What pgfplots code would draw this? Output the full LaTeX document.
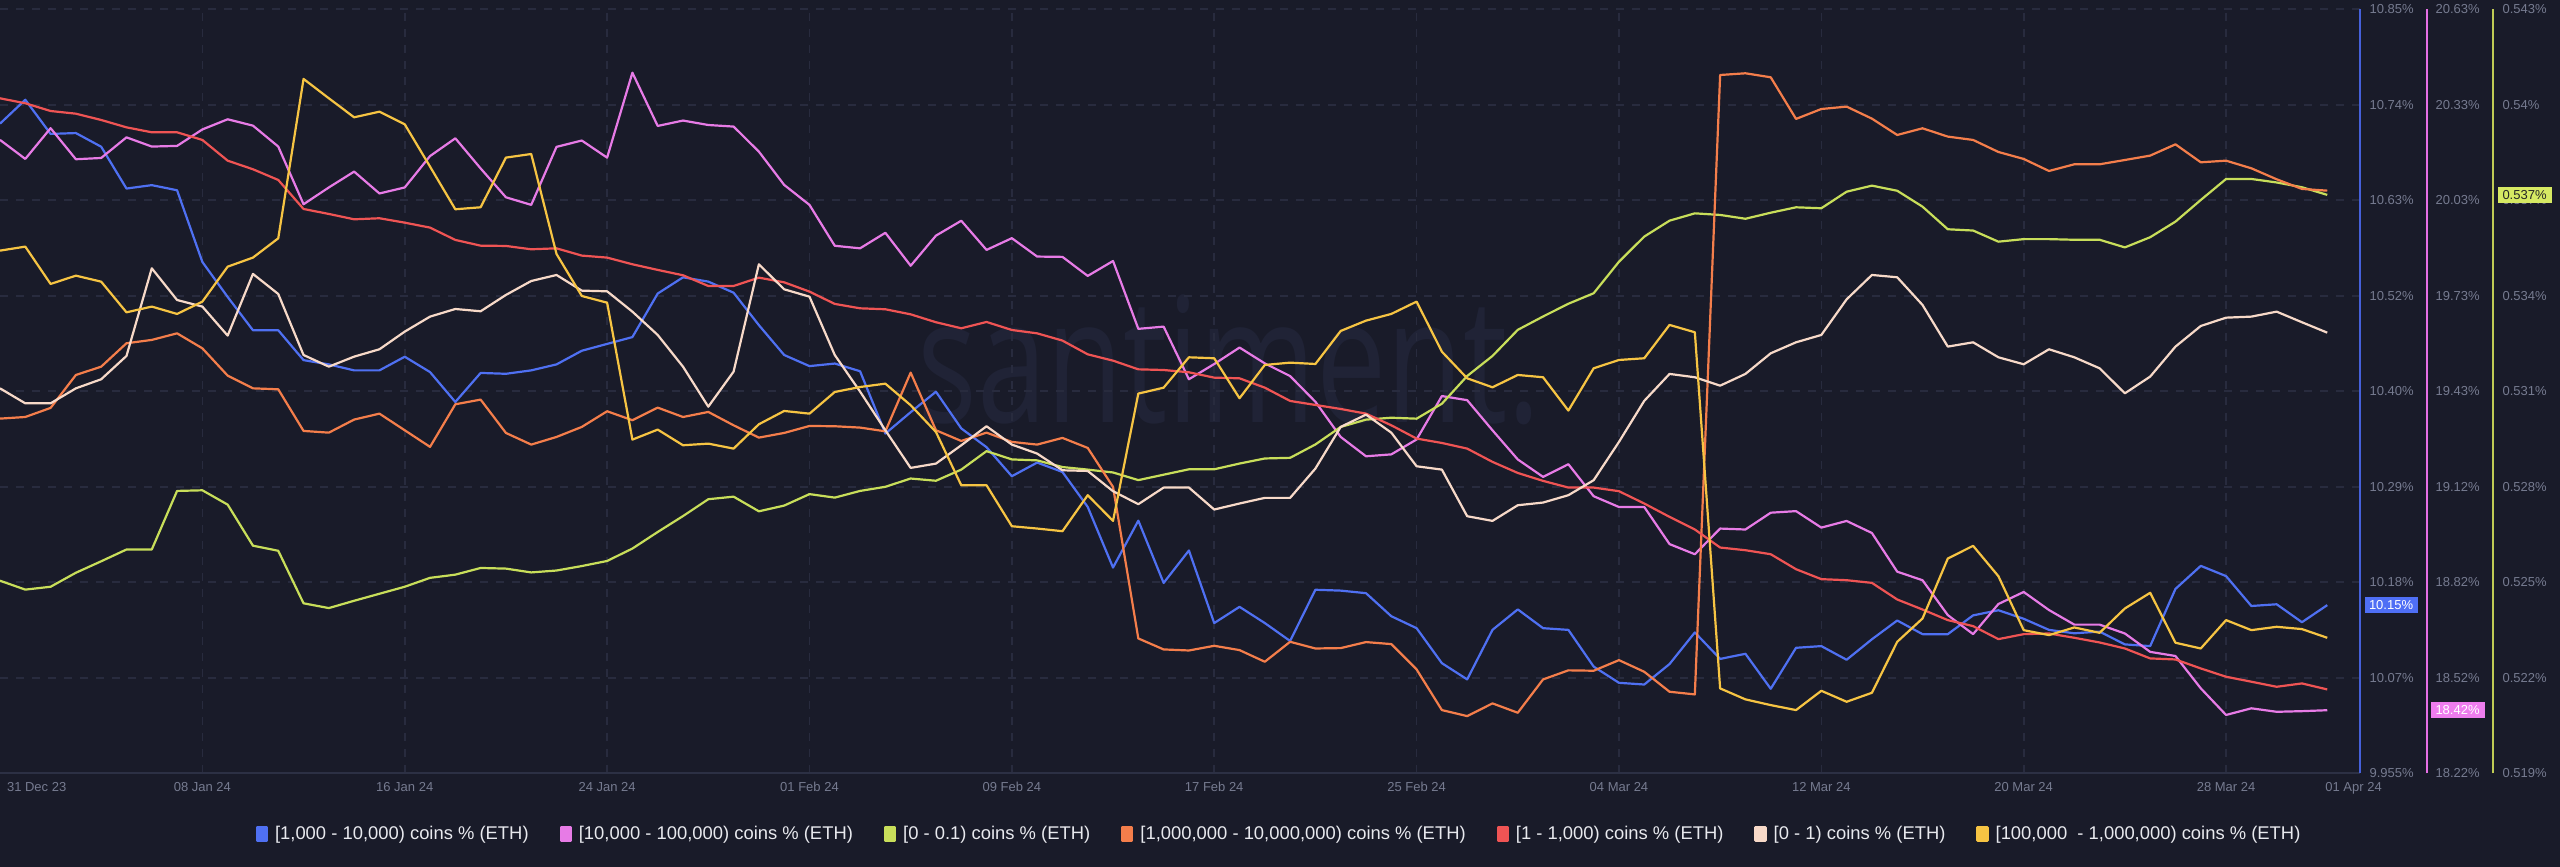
\documentclass[border=0pt]{standalone}
\usepackage{pgfplots}
\pgfplotsset{compat=1.18}
\usepackage{pgfplotstable}
\usepackage{fontspec}
\setmainfont{Liberation Sans}
\newfontfamily\wmfont{Open Sans}

\definecolor{bg}{HTML}{191B29}
\definecolor{gridc}{HTML}{282B3E}
\definecolor{axisc}{HTML}{2C3044}
\definecolor{tickc}{HTML}{767B90}
\definecolor{legc}{HTML}{E8E9EE}
\definecolor{wmc}{HTML}{202336}
\definecolor{cblue}{HTML}{4F70F2}
\definecolor{cpink}{HTML}{E77BE6}
\definecolor{cyg}{HTML}{C8DE5A}
\definecolor{corange}{HTML}{F47E4B}
\definecolor{cred}{HTML}{EF5454}
\definecolor{cbeige}{HTML}{F7D9C8}
\definecolor{cyellow}{HTML}{F6C443}
\definecolor{ablue}{HTML}{4560DA}
\definecolor{apink}{HTML}{E56FE4}
\definecolor{ayg}{HTML}{BFCB55}
\definecolor{bblue}{HTML}{4F6FF5}
\definecolor{bpink}{HTML}{EE7DEE}
\definecolor{byg}{HTML}{D6E963}

\pgfplotstableread{
d blue pink yg orange red beige yellow
0 10.716 20.218 0.52505 3.714 7.068 4.031 5.473
1 10.744 20.158 0.52477 3.731 7.016 3.874 5.515
2 10.704 20.255 0.52486 3.826 6.935 3.874 5.124
3 10.705 20.157 0.52530 4.171 6.907 4.031 5.211
4 10.689 20.161 0.52566 4.258 6.841 4.126 5.148
5 10.640 20.226 0.52603 4.503 6.764 4.370 4.827
6 10.644 20.197 0.52603 4.538 6.712 5.288 4.887
7 10.638 20.199 0.52787 4.607 6.712 4.956 4.810
8 10.554 20.251 0.52789 4.450 6.632 4.887 4.939
9 10.513 20.283 0.52744 4.164 6.415 4.583 5.305
10 10.474 20.263 0.52615 4.031 6.325 5.229 5.400
11 10.474 20.197 0.52599 4.021 6.213 5.019 5.602
12 10.439 20.015 0.52434 3.585 5.909 4.380 7.271
13 10.434 20.068 0.52419 3.567 5.857 4.258 7.068
14 10.427 20.118 0.52442 3.704 5.801 4.363 6.869
15 10.427 20.049 0.52464 3.766 5.812 4.440 6.928
16 10.443 20.068 0.52486 3.592 5.766 4.625 6.796
17 10.425 20.167 0.52514 3.418 5.714 4.782 6.353
18 10.390 20.223 0.52524 3.864 5.585 4.862 5.906
19 10.424 20.128 0.52545 3.913 5.525 4.838 5.927
20 10.423 20.037 0.52543 3.564 5.522 5.009 6.447
21 10.427 20.013 0.52531 3.442 5.487 5.155 6.485
22 10.434 20.196 0.52537 3.522 5.497 5.218 5.438
23 10.450 20.216 0.52551 3.627 5.421 5.054 4.998
24 10.458 20.162 0.52567 3.791 5.400 5.047 4.928
25 10.466 20.430 0.52606 3.697 5.330 4.834 3.494
26 10.517 20.262 0.52658 3.829 5.271 4.590 3.599
27 10.536 20.279 0.52708 3.731 5.215 4.258 3.435
28 10.531 20.265 0.52761 3.784 5.103 3.839 3.452
29 10.518 20.260 0.52769 3.644 5.103 4.206 3.400
30 10.480 20.181 0.52723 3.515 5.190 5.330 3.655
31 10.445 20.076 0.52741 3.564 5.141 5.068 3.794
32 10.432 20.013 0.52777 3.637 5.044 4.991 3.766
33 10.435 19.884 0.52766 3.634 4.915 4.380 3.993
34 10.426 19.876 0.52787 3.620 4.869 3.997 4.045
35 10.353 19.925 0.52800 3.581 4.859 3.592 4.080
36 10.378 19.821 0.52826 4.196 4.806 3.198 3.854
37 10.402 19.916 0.52819 3.592 4.723 3.243 3.574
38 10.359 19.963 0.52854 3.480 4.660 3.435 3.016
39 10.337 19.871 0.52912 3.567 4.726 3.634 3.016
40 10.303 19.908 0.52886 3.470 4.642 3.442 2.587
41 10.319 19.850 0.52883 3.442 4.607 3.348 2.563
42 10.308 19.849 0.52862 3.512 4.531 3.173 2.535
43 10.267 19.789 0.52854 3.407 4.387 3.166 2.912
44 10.196 19.836 0.52845 2.999 4.321 2.954 2.643
45 10.251 19.622 0.52821 1.412 4.230 2.818 3.976
46 10.178 19.629 0.52838 1.297 4.223 2.992 4.038
47 10.216 19.463 0.52855 1.286 4.199 2.992 4.356
48 10.131 19.511 0.52855 1.335 4.143 2.762 4.346
49 10.150 19.563 0.52873 1.290 4.136 2.825 3.927
50 10.131 19.513 0.52889 1.168 4.038 2.884 4.276
51 10.110 19.473 0.52891 1.377 3.899 2.884 4.300
52 10.170 19.392 0.52933 1.307 3.857 3.191 4.286
53 10.169 19.281 0.52988 1.311 3.815 3.627 4.632
54 10.166 19.220 0.53011 1.374 3.766 3.756 4.740
55 10.139 19.226 0.53017 1.353 3.644 3.567 4.810
56 10.125 19.273 0.53014 1.088 3.505 3.215 4.939
57 10.084 19.410 0.53061 0.662 3.459 3.180 4.415
58 10.065 19.397 0.53148 0.599 3.400 2.692 4.136
59 10.123 19.302 0.53211 0.732 3.261 2.643 4.042
60 10.147 19.210 0.53293 0.634 3.145 2.807 4.171
61 10.125 19.155 0.53335 0.983 3.062 2.835 4.147
62 10.123 19.195 0.53375 1.078 2.992 2.912 3.798
63 10.080 19.094 0.53408 1.074 2.992 3.069 4.241
64 10.061 19.060 0.53507 1.185 2.954 3.470 4.328
65 10.059 19.060 0.53586 1.063 2.825 3.900 4.346
66 10.083 18.943 0.53636 0.854 2.685 4.182 4.695
67 10.120 18.911 0.53659 0.826 2.553 4.147 4.618
68 10.089 18.992 0.53654 7.312 2.364 4.059 0.889
69 10.095 18.989 0.53642 7.330 2.336 4.182 0.774
70 10.054 19.042 0.53661 7.288 2.294 4.398 0.714
71 10.102 19.047 0.53678 6.852 2.137 4.513 0.662
72 10.104 18.995 0.53675 6.956 2.033 4.590 0.864
73 10.088 19.016 0.53727 6.981 2.022 4.963 0.749
74 10.112 18.978 0.53746 6.855 1.994 5.218 0.843
75 10.134 18.856 0.53730 6.684 1.820 5.194 1.377
76 10.118 18.829 0.53680 6.754 1.715 4.904 1.621
77 10.118 18.719 0.53609 6.667 1.604 4.468 2.249
78 10.140 18.659 0.53605 6.632 1.541 4.513 2.382
79 10.146 18.754 0.53570 6.506 1.405 4.356 2.064
80 10.136 18.792 0.53578 6.433 1.457 4.283 1.499
81 10.123 18.735 0.53578 6.307 1.464 4.440 1.447
82 10.119 18.689 0.53576 6.377 1.419 4.356 1.527
83 10.121 18.689 0.53576 6.377 1.370 4.241 1.471
84 10.106 18.661 0.53552 6.422 1.307 3.979 1.726
85 10.104 18.603 0.53584 6.468 1.203 4.154 1.890
86 10.171 18.590 0.53633 6.586 1.192 4.468 1.367
87 10.198 18.488 0.53701 6.398 1.098 4.684 1.307
88 10.186 18.404 0.53767 6.415 1.011 4.771 1.604
89 10.151 18.425 0.53767 6.335 0.959 4.782 1.499
90 10.153 18.414 0.53756 6.220 0.906 4.834 1.534
91 10.132 18.416 0.53741 6.119 0.941 4.723 1.510
92 10.152 18.419 0.53717 6.101 0.878 4.614 1.419
}\tdata

\pgfplotsset{
  base/.style={scale only axis, width=1180pt, height=382pt, at={(0pt,46.85pt)},
    anchor=south west, xmin=0, xmax=93.3, clip mode=individual,
    every axis plot/.append style={line width=1.1pt, line join=round}},
  tickfont/.style={font=\fontsize{6.5}{7.5}\selectfont, text=tickc},
}

\begin{document}
\begin{tikzpicture}
\fill[bg] (0,0) rectangle (1280pt,433.5pt);
\useasboundingbox (0,0) rectangle (1280pt,433.5pt);
\node[text=wmc, font=\wmfont\fontsize{87}{87}\selectfont, anchor=base, xscale=0.72, inner sep=0pt] at (614.5pt,222pt) {santiment.};

% main (blue) axis
\begin{axis}[base, ymin=9.955, ymax=10.85,
  axis x line*=bottom, axis y line*=right,
  x axis line style={draw=axisc, line width=1pt, -},
  y axis line style={draw=ablue, line width=1pt, -},
  xtick={8,16,...,88},
  xticklabels={08 Jan 24,16 Jan 24,24 Jan 24,01 Feb 24,09 Feb 24,17 Feb 24,25 Feb 24,04 Mar 24,12 Mar 24,20 Mar 24,28 Mar 24},
  extra x ticks={1.45,93.04}, extra x tick labels={31 Dec 23,01 Apr 24},
  extra x tick style={grid=none},
  xticklabel style={tickfont, anchor=north, inner sep=0pt, yshift=-4.3pt},
  ytick={9.955,10.066875,10.17875,10.290625,10.4025,10.514375,10.62625,10.738125,10.85},
  yticklabels={9.955\%,10.07\%,10.18\%,10.29\%,10.40\%,10.52\%,10.63\%,10.74\%,10.85\%},
  yticklabel style={tickfont, anchor=west, inner sep=0pt, xshift=4.5pt},
  major tick length=0pt,
  xmajorgrids, ymajorgrids,
  grid style={draw=gridc, dash pattern=on 4pt off 4pt, line width=0.8pt},
]
\addplot[color=cblue] table[x=d,y=blue]{\tdata};
\coordinate (lastblue) at (axis cs:93.3,10.152);
\end{axis}

% pink axis
\begin{axis}[base, ymin=18.22, ymax=20.63,
  axis x line=none, axis y line*=right,
  y axis line style={draw=apink, line width=1pt, -, xshift=33.5pt},
  ytick={18.22,18.52125,18.8225,19.12375,19.425,19.72625,20.0275,20.32875,20.63},
  yticklabels={18.22\%,18.52\%,18.82\%,19.12\%,19.43\%,19.73\%,20.03\%,20.33\%,20.63\%},
  yticklabel style={tickfont, anchor=west, inner sep=0pt, xshift=37.5pt},
  major tick length=0pt,
]
\addplot[color=cpink] table[x=d,y=pink]{\tdata};
\coordinate (lastpink) at (axis cs:93.3,18.419);
\end{axis}

% yellow-green axis
\begin{axis}[base, ymin=0.519, ymax=0.543,
  axis x line=none, axis y line*=right,
  y axis line style={draw=ayg, line width=1pt, -, xshift=66.5pt},
  ytick={0.519,0.522,0.525,0.528,0.531,0.534,0.537,0.540,0.543},
  yticklabels={0.519\%,0.522\%,0.525\%,0.528\%,0.531\%,0.534\%,0.537\%,0.54\%,0.543\%},
  yticklabel style={tickfont, anchor=west, inner sep=0pt, xshift=71pt},
  major tick length=0pt,
]
\addplot[color=cyg] table[x=d,y=yg]{\tdata};
\coordinate (lastyg) at (axis cs:93.3,0.53717);
\end{axis}

% hidden-scale series + legend
\begin{axis}[base, ymin=0, ymax=8, hide axis,
  legend columns=7,
  legend style={at={(0.5424,-0.0795)}, anchor=center, draw=none, fill=none,
    text=legc, font=\fontsize{9.2}{10}\selectfont,
    /tikz/every even column/.append style={column sep=13.5pt},
    /tikz/every odd column/.append style={column sep=1.5pt}},
  legend image code/.code={\fill[#1] (0pt,-3.25pt) rectangle (5pt,3.25pt);},
]
\addlegendimage{color=cblue}
\addlegendentry{{[}1,000 - 10,000) coins \% (ETH)}
\addlegendimage{color=cpink}
\addlegendentry{{[}10,000 - 100,000) coins \% (ETH)}
\addlegendimage{color=cyg}
\addlegendentry{{[}0 - 0.1) coins \% (ETH)}
\addplot[color=corange] table[x=d,y=orange]{\tdata};
\addlegendentry{{[}1,000,000 - 10,000,000) coins \% (ETH)}
\addplot[color=cred] table[x=d,y=red]{\tdata};
\addlegendentry{{[}1 - 1,000) coins \% (ETH)}
\addplot[color=cbeige] table[x=d,y=beige]{\tdata};
\addlegendentry{{[}0 - 1) coins \% (ETH)}
\addplot[color=cyellow] table[x=d,y=yellow]{\tdata};
\addlegendentry{{[}100,000 \ - 1,000,000) coins \% (ETH)}
\end{axis}

\node[fill=bblue, text=white, font=\fontsize{6.5}{7.5}\selectfont, inner sep=0pt, minimum width=26.5pt, minimum height=8pt, anchor=west] at ([xshift=2pt]lastblue) {10.15\%};
\node[fill=bpink, text=white, font=\fontsize{6.5}{7.5}\selectfont, inner sep=0pt, minimum width=27pt, minimum height=8pt, anchor=west] at ([xshift=35pt]lastpink) {18.42\%};
\node[fill=byg, text=black!85, font=\fontsize{6.5}{7.5}\selectfont, inner sep=0pt, minimum width=27pt, minimum height=8pt, anchor=west] at ([xshift=68.5pt]lastyg) {0.537\%};
\end{tikzpicture}
\end{document}
